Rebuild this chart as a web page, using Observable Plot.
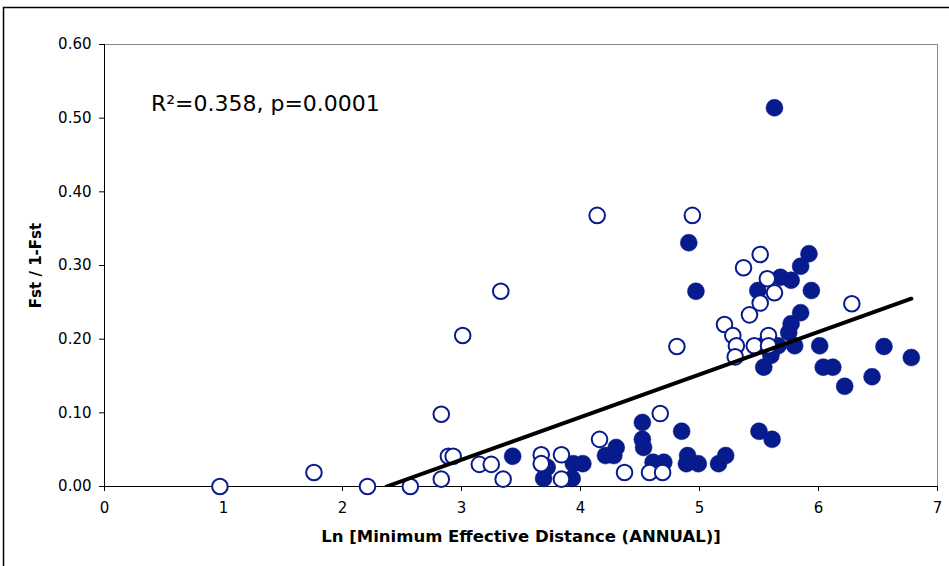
<!DOCTYPE html>
<html>
<head>
<meta charset="utf-8">
<script src="https://cdn.jsdelivr.net/npm/d3@7"></script>
<script src="https://cdn.jsdelivr.net/npm/@observablehq/plot@0.6"></script>
<style>
  html, body { margin: 0; padding: 0; background: #fff; }
  #chart { width: 949px; height: 566px; }
</style>
</head>
<body>
<div id="chart"></div>
<script>
// Open circles (Ln distance, Fst/1-Fst)
const openX = [0.97, 1.76, 2.21, 2.57, 2.83, 2.83, 2.89, 2.93, 3.01, 3.33, 3.15, 3.25, 3.35, 3.67, 3.67, 3.84, 3.84,
  4.14, 4.16, 4.37, 4.67, 4.58, 4.69, 4.94, 4.81, 5.51, 5.37, 5.57, 5.63, 5.51, 5.42, 5.21, 5.28, 5.31, 5.30, 5.46, 5.58, 5.58, 6.28];
const openY = [0.000, 0.019, 0.000, 0.000, 0.098, 0.010, 0.041, 0.041, 0.205, 0.265, 0.030, 0.030, 0.010, 0.043, 0.031, 0.043, 0.010,
  0.368, 0.064, 0.019, 0.099, 0.019, 0.019, 0.368, 0.190, 0.315, 0.297, 0.282, 0.263, 0.249, 0.233, 0.220, 0.205, 0.191, 0.176, 0.191, 0.205, 0.191, 0.248];

// Filled circles
const filledX = [5.63, 4.91, 4.97, 3.43, 3.69, 3.72, 3.94, 4.02, 3.93, 4.21, 4.28, 4.30, 4.52, 4.52, 4.53, 4.61, 4.70, 4.85, 4.90, 4.89,
  4.99, 5.16, 5.22, 5.50, 5.61, 5.92, 5.85, 5.77, 5.68, 5.49, 5.94, 5.85, 5.77, 5.75, 5.80, 5.53, 5.66, 5.54, 5.60, 6.01, 6.04, 6.12,
  6.22, 6.45, 6.55, 6.78];
const filledY = [0.514, 0.331, 0.265, 0.041, 0.011, 0.026, 0.031, 0.031, 0.011, 0.042, 0.042, 0.053, 0.087, 0.064, 0.053, 0.033, 0.033, 0.075, 0.042, 0.031,
  0.031, 0.031, 0.042, 0.075, 0.064, 0.316, 0.299, 0.280, 0.284, 0.266, 0.266, 0.236, 0.221, 0.209, 0.191, 0.191, 0.191, 0.162, 0.178, 0.191, 0.162, 0.162,
  0.136, 0.149, 0.190, 0.175];

// Regression line
const regSlope = 0.0578;
const regIntercept = -0.137;
const regXRange = [2.37, 6.78];

const xTicks = [0, 1, 2, 3, 4, 5, 6, 7];
const yTicks = [0, 0.1, 0.2, 0.3, 0.4, 0.5, 0.6];
const annotation = "R²=0.358, p=0.0001";
const xLabel = "Ln [Minimum Effective Distance (ANNUAL)]";
const yLabel = "Fst / 1-Fst";

const openData = openX.map((x, i) => ({x, y: openY[i]}));
const filledData = filledX.map((x, i) => ({x, y: filledY[i]}));
const regData = regXRange.map(x => ({x, y: regSlope * x + regIntercept}));

const blue = "#071b8c";
const font = "DejaVu Sans, Verdana, sans-serif";

const plot = Plot.plot({
  width: 949,
  height: 566,
  marginLeft: 104,
  marginRight: 12,
  marginTop: 44,
  marginBottom: 80,
  style: {fontFamily: font, fontSize: "14px", color: "#000", background: "#fff"},
  x: {domain: [0, 7]},
  y: {domain: [0, 0.6]},
  marks: [
    Plot.ruleY([0.6], {stroke: "#888", strokeWidth: 1}),
    Plot.ruleX([7], {stroke: "#888", strokeWidth: 1}),
    Plot.axisX({ticks: xTicks, tickSize: 5, tickPadding: 11, tickFormat: d3.format("d"), label: null, fontSize: 15, stroke: "#000"}),
    Plot.axisY({ticks: yTicks, tickSize: 5, tickPadding: 8, tickFormat: d3.format(".2f"), label: null, fontSize: 15, stroke: "#000"}),
    Plot.ruleY([0], {stroke: "#000", strokeWidth: 1}),
    Plot.ruleX([0], {stroke: "#000", strokeWidth: 1}),
    Plot.dot(filledData, {x: "x", y: "y", r: 8.5, fill: blue, stroke: blue, strokeWidth: 0.5}),
    Plot.dot(openData, {x: "x", y: "y", r: 7.8, fill: "#fff", stroke: blue, strokeWidth: 2}),
    Plot.line(regData, {x: "x", y: "y", stroke: "#000", strokeWidth: 4, clip: true}),
    Plot.text([annotation], {x: 0.39, y: 0.519, text: d => d, textAnchor: "start", fontSize: 22, fill: "#000"}),
    Plot.text([xLabel], {frameAnchor: "bottom", dy: 55, text: d => d, fontSize: 16.5, fontWeight: "bold", fill: "#000"}),
    Plot.text([yLabel], {frameAnchor: "left", dx: -68, rotate: -90, textAnchor: "middle", text: d => d, fontSize: 15, fontWeight: "bold", fill: "#000"})
  ]
});

// outer chart border (decorative)
d3.select(plot).append("rect")
  .attr("x", 3.5).attr("y", 7.5).attr("width", 960).attr("height", 600)
  .attr("fill", "none").attr("stroke", "#000").attr("stroke-width", 1.5);

document.getElementById("chart").appendChild(plot);
</script>
</body>
</html>
